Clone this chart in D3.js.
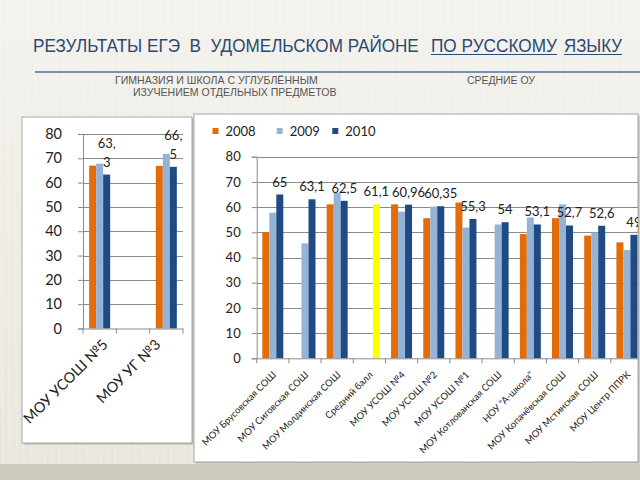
<!DOCTYPE html>
<html><head><meta charset="utf-8">
<script src="https://cdn.jsdelivr.net/npm/d3@7"></script>
<style>
html,body{margin:0;padding:0;}
svg{display:block;}
</style></head>
<body>
<svg id="c" width="640" height="480"></svg>
<script>
// ---------- DATA ----------
const titleParts = ["РЕЗУЛЬТАТЫ ЕГЭ  В  УДОМЕЛЬСКОМ РАЙОНЕ", "ПО РУССКОМУ", "ЯЗЫКУ"];
const titleUnderline = [false, true, true];
const subLeft1 = "ГИМНАЗИЯ И ШКОЛА С УГЛУБЛЁННЫМ";
const subLeft2 = "ИЗУЧЕНИЕМ ОТДЕЛЬНЫХ ПРЕДМЕТОВ";
const subRight = "СРЕДНИЕ ОУ";

const seriesNames = ["2008", "2009", "2010"];
const yTicks = [0, 10, 20, 30, 40, 50, 60, 70, 80];

const leftCats = ["МОУ УСОШ №5", " ", "МОУ УГ №3"];
const left2008 = [67.0, null, 66.9];
const left2009 = [67.8, null, 71.8];
const left2010 = [63.3, null, 66.5];
const leftLabels = [["63,", "3"], null, ["66,", "5"]];

const rightCats = ["МОУ Брусовская СОШ", "МОУ Сиговская СОШ", "МОУ Молдинская СОШ", "Средний балл",
  "МОУ УСОШ №4", "МОУ УСОШ №2", "МОУ УСОШ №1", "МОУ Котлованская СОШ", "НОУ \"А-школа\"",
  "МОУ Копачёвская СОШ", "МОУ Мстинская СОШ", "МОУ Центр ППРК"];
const right2008 = [50.0, null, 61.1, null, 61.1, 55.6, 61.8, null, 49.3, 55.6, 48.7, 46.0];
const right2009 = [57.8, 45.6, 65.7, null, 58.2, 60.2, 51.9, 53.1, 55.9, 61.1, 49.9, 43.0];
const right2010 = [65, 63.1, 62.5, 61.1, 60.96, 60.35, 55.3, 54, 53.1, 52.7, 52.6, 49];
const highlightCat = "Средний балл";

// ---------- STYLE ----------
const colors = {"2008": "#E36C0A", "2009": "#95B3D7", "2010": "#1F4A84"};
const highlightColor = "#FFFF00";
const gridColor = "#8a8a8a";
const FONT = "Lato, 'Open Sans', sans-serif";

const svg = d3.select("#c");
const defs = svg.append("defs");

// background
const bg = defs.append("linearGradient").attr("id", "bg").attr("x1", 0).attr("y1", 0).attr("x2", 0).attr("y2", 1);
bg.append("stop").attr("offset", "0%").attr("stop-color", "#f4f2ed");
bg.append("stop").attr("offset", "100%").attr("stop-color", "#e9e6dc");
svg.append("rect").attr("width", 640).attr("height", 480).attr("fill", "url(#bg)");
const streaks = d3.range(0, 640, 7);
svg.append("g").selectAll("line").data(streaks).join("line")
  .attr("x1", d => d).attr("x2", d => d + 3).attr("y1", 0).attr("y2", 480)
  .attr("stroke", "#ffffff").attr("stroke-opacity", 0.18).attr("stroke-width", 2);
svg.append("rect").attr("x", 0).attr("y", 464).attr("width", 640).attr("height", 16).attr("fill", "#cdc9bb");

// fit text horizontally into a given width by scaling (keeps bbox honest)
function fitText(sel, x, y, w) {
  sel.attr("x", 0).attr("y", 0);
  const natural = sel.node().getComputedTextLength();
  sel.attr("transform", `translate(${x},${y}) scale(${w / natural},1)`);
  return sel;
}

// ---------- TITLE ----------
const titleFont = "'Liberation Sans Narrow', 'Liberation Sans', Arial, sans-serif";
const titleBoxes = [[33, 386], [431, 126], [564, 58]]; // [x, width] layout
titleParts.forEach((t, i) => {
  const tx = svg.append("text").text(t)
    .attr("font-family", titleFont).attr("font-size", 19).attr("fill", "#2b4a6f")
    .style("white-space", "pre");
  fitText(tx, titleBoxes[i][0], 52, titleBoxes[i][1]);
  if (titleUnderline[i]) {
    svg.append("line").attr("x1", titleBoxes[i][0]).attr("x2", titleBoxes[i][0] + titleBoxes[i][1])
      .attr("y1", 54.5).attr("y2", 54.5).attr("stroke", "#2b4a6f").attr("stroke-width", 1.2);
  }
});

svg.append("line").attr("x1", 35).attr("x2", 640).attr("y1", 72).attr("y2", 72)
  .attr("stroke", "#4f6f9f").attr("stroke-width", 1.3);

const subFont = titleFont;
[[subLeft1, 115, 84, 203], [subLeft2, 133, 96, 204], [subRight, 467, 84, 68]].forEach(([t, x, y, w]) => {
  const tx = svg.append("text").text(t).attr("font-family", subFont).attr("font-size", 10).attr("fill", "#555");
  fitText(tx, x, y, w);
});

// ---------- PANELS ----------
function panel(id, x, y, w, h) {
  defs.append("clipPath").attr("id", id).append("rect").attr("x", x).attr("y", y).attr("width", w).attr("height", h);
  svg.append("rect").attr("x", x + 1.5).attr("y", y + 1.5).attr("width", w).attr("height", h).attr("fill", "#b5b2a6");
  svg.append("rect").attr("x", x).attr("y", y).attr("width", w).attr("height", h)
    .attr("fill", "#fff").attr("stroke", "#a9a9a9").attr("stroke-width", 1);
  return svg.append("g").attr("clip-path", `url(#${id})`);
}

// ---------- LEFT CHART ----------
const gL = panel("clipL", 22, 117, 170, 326);
const xL = d3.scaleBand().domain(leftCats).range([83, 183]);
const yL = d3.scaleLinear().domain([0, 80]).range([328.5, 134]);
const groupW = 21;
const xsL = d3.scaleBand().domain(seriesNames).range([0, groupW]);
const offL = (xL.bandwidth() - groupW) / 2;

gL.append("g").selectAll("line").data(yTicks.slice(1)).join("line")
  .attr("x1", xL.range()[0]).attr("x2", xL.range()[1])
  .attr("y1", d => Math.round(yL(d)) + 0.5).attr("y2", d => Math.round(yL(d)) + 0.5)
  .attr("stroke", gridColor);

const yAxL = gL.append("g").attr("transform", `translate(${xL.range()[0]},0)`)
  .call(d3.axisLeft(yL).tickValues(yTicks).tickSize(5).tickPadding(16));
yAxL.select(".domain").attr("stroke", gridColor);
yAxL.selectAll(".tick line").attr("stroke", gridColor);
yAxL.selectAll("text").attr("font-family", FONT).attr("font-size", 14.5).attr("fill", "#222");

const leftSeries = {"2008": left2008, "2009": left2009, "2010": left2010};
seriesNames.forEach(s => {
  gL.append("g").selectAll("rect").data(leftCats.map((c, i) => ({c, v: leftSeries[s][i]})).filter(d => d.v != null))
    .join("rect")
    .attr("x", d => xL(d.c) + offL + xsL(s)).attr("width", xsL.bandwidth())
    .attr("y", d => yL(d.v)).attr("height", d => yL(0) - yL(d.v))
    .attr("fill", colors[s]);
});

gL.append("line").attr("x1", xL.range()[0]).attr("x2", xL.range()[1])
  .attr("y1", yL(0) + 0.5).attr("y2", yL(0) + 0.5).attr("stroke", gridColor);
const boundsL = leftCats.map(c => xL(c)).concat([xL.range()[1]]);
gL.append("g").selectAll("line").data(boundsL).join("line")
  .attr("x1", d => d).attr("x2", d => d).attr("y1", yL(0)).attr("y2", yL(0) + 5).attr("stroke", gridColor);

const leftLabelShift = [9, 0, -5];
gL.append("g").selectAll("text").data(leftCats.map((c, i) => ({c, i})).filter(d => d.c.trim() !== ""))
  .join("text")
  .attr("transform", d => `translate(${xL(d.c) + xL.bandwidth() / 2 + leftLabelShift[d.i]},${yL(0) + 17}) rotate(-45)`)
  .attr("text-anchor", "end").attr("font-family", FONT).attr("font-size", 14.5).attr("fill", "#222")
  .text(d => d.c);

leftCats.forEach((c, i) => {
  if (!leftLabels[i]) return;
  const cx = xL(c) + offL + xsL("2010") + xsL.bandwidth() / 2;
  const t = gL.append("text").attr("text-anchor", "middle").attr("font-family", FONT)
    .attr("font-size", 13).attr("fill", "#222");
  t.append("tspan").attr("x", cx).attr("y", yL(left2010[i]) - 27).text(leftLabels[i][0]);
  t.append("tspan").attr("x", cx).attr("y", yL(left2010[i]) - 8).text(leftLabels[i][1]);
});

// ---------- RIGHT CHART ----------
const gR = panel("clipR", 194, 114, 444, 348);
const xR = d3.scaleBand().domain(rightCats).range([256.7, 643]);
const yR = d3.scaleLinear().domain([0, 80]).range([358.3, 156.7]);
const xsR = d3.scaleBand().domain(seriesNames).range([0, groupW]);
const offR = (xR.bandwidth() - groupW) / 2;

const leg = gR.append("g");
const legX = {"2008": 212.5, "2009": 276.7, "2010": 332.3};
seriesNames.forEach(s => {
  leg.append("rect").attr("x", legX[s]).attr("y", 128).attr("width", 6).attr("height", 6).attr("fill", colors[s]);
  leg.append("text").attr("x", legX[s] + 13).attr("y", 135.5).text(s)
    .attr("font-family", FONT).attr("font-size", 13).attr("fill", "#222");
});

gR.append("g").selectAll("line").data(yTicks.slice(1)).join("line")
  .attr("x1", xR.range()[0]).attr("x2", xR.range()[1])
  .attr("y1", d => Math.round(yR(d)) + 0.5).attr("y2", d => Math.round(yR(d)) + 0.5)
  .attr("stroke", gridColor);

const yAxR = gR.append("g").attr("transform", `translate(${xR.range()[0]},0)`)
  .call(d3.axisLeft(yR).tickValues(yTicks).tickSize(5).tickPadding(11));
yAxR.select(".domain").attr("stroke", gridColor);
yAxR.selectAll(".tick line").attr("stroke", gridColor);
yAxR.selectAll("text").attr("font-family", FONT).attr("font-size", 13).attr("fill", "#222");

const rightSeries = {"2008": right2008, "2009": right2009, "2010": right2010};
seriesNames.forEach(s => {
  gR.append("g").selectAll("rect").data(rightCats.map((c, i) => ({c, v: rightSeries[s][i]})).filter(d => d.v != null))
    .join("rect")
    .attr("x", d => xR(d.c) + offR + xsR(s)).attr("width", xsR.bandwidth())
    .attr("y", d => yR(d.v)).attr("height", d => yR(0) - yR(d.v))
    .attr("fill", d => (s === "2010" && d.c === highlightCat) ? highlightColor : colors[s]);
});

gR.append("line").attr("x1", xR.range()[0]).attr("x2", xR.range()[1])
  .attr("y1", yR(0) + 0.5).attr("y2", yR(0) + 0.5).attr("stroke", gridColor);
const boundsR = rightCats.map(c => xR(c)).concat([xR.range()[1]]);
gR.append("g").selectAll("line").data(boundsR).join("line")
  .attr("x1", d => d).attr("x2", d => d).attr("y1", yR(0)).attr("y2", yR(0) + 5).attr("stroke", gridColor);

gR.append("g").selectAll("text").data(rightCats).join("text")
  .attr("transform", d => `translate(${xR(d) + xR.bandwidth() / 2 + 4},${yR(0) + 17}) rotate(-45)`)
  .attr("text-anchor", "end").attr("font-family", FONT).attr("font-size", 9.5).attr("fill", "#222")
  .text(d => d);

gR.append("g").selectAll("text").data(rightCats.map((c, i) => ({c, v: right2010[i]}))).join("text")
  .attr("x", d => xR(d.c) + offR + xsR("2010") + xsR.bandwidth() / 2)
  .attr("y", d => yR(d.v) - 8)
  .attr("text-anchor", "middle").attr("font-family", FONT).attr("font-size", 13).attr("fill", "#222")
  .text(d => String(d.v).replace(".", ","));
</script>
</body></html>
